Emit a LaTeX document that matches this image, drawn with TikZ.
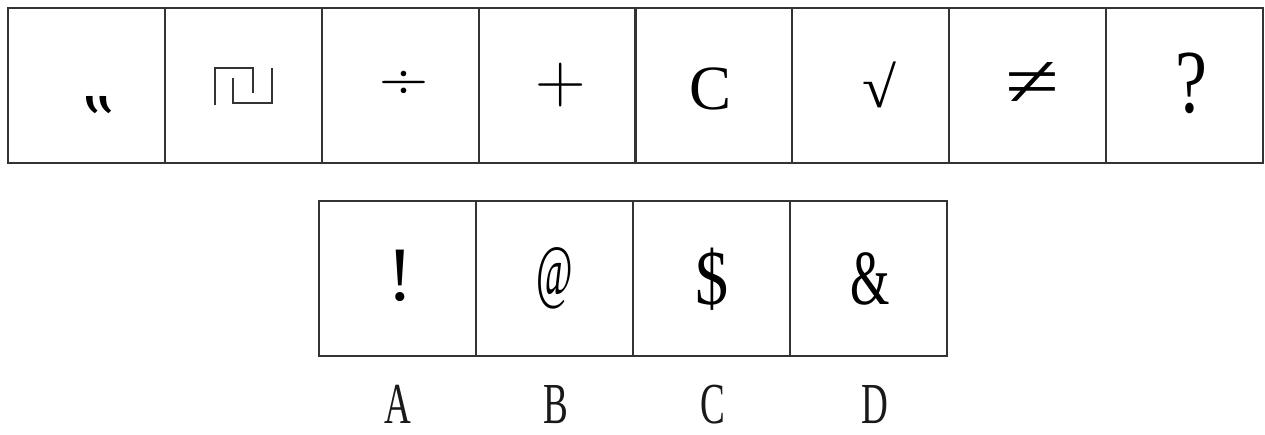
\documentclass[tikz,border=0pt]{standalone}
\usepackage{fontspec}
\setmainfont{Liberation Serif}
\newfontfamily\dvserif{DejaVu Serif}
\newcommand{\lmglyph}{\fontfamily{lmr}\selectfont}
\usepackage{graphicx}
\begin{document}
\begin{tikzpicture}[x=1pt,y=-1pt,
  cell/.style={draw=black!80, line width=2pt, minimum width=156.9pt, minimum height=155pt, inner sep=0pt, anchor=center},
  sym/.style={inner sep=0pt, anchor=center, text=black},
  lab/.style={inner sep=0pt, anchor=base, text=black!90, font=\fontsize{58pt}{58pt}\selectfont},
  meander/.style={line width=2.4pt, draw=black!80},
  fs/.style={font=\fontsize{#1}{#1}\selectfont}]
\useasboundingbox (0,0) rectangle (1265,435);
% top row
\foreach \i in {1,...,8}
  \node[cell] (t\i) at ({8+156.875*(\i-0.5)},85.5) {};
% answer row
\node[cell] (bA) at (397.5,278.5) {};
\node[cell] (bB) at (554.5,278.5) {};
\node[cell] (bC) at (711.5,278.5) {};
\node[cell] (bD) at (868.5,278.5) {};
% symbols, top row
\node[sym, fs=70pt, anchor=base] (s1) at (99,148) {\dvserif ‟};
\draw[meander] (215,105) -- (215,68) -- (253,68) -- (253,93);
\draw[meander] (233,78) -- (233,103) -- (272,103) -- (272,68);
\node[sym, fs=68pt] (s3) at (404,85) {\lmglyph ÷};
\node[sym, fs=70pt] (s4) at (561,85) {\lmglyph +};
\node[sym, fs=63pt] (s5) at (710,89) {C};
\node[sym] (s6) at (879,85) {\resizebox*{34pt}{46pt}{√}};
\node[sym] (s7) at (1032,85) {\resizebox*{54pt}{44pt}{≠}};
\node[sym, fs=90pt] (s8) at (1191,83) {\scalebox{0.8}[1]{?}};
% symbols, answer row
\node[sym, fs=77pt] (oA) at (400,276) {!};
\node[sym, fs=72pt] (oB) at (555,278) {\scalebox{0.55}[1]{@}};
\node[sym, fs=78pt] (oC) at (712,279) {\scalebox{0.85}[1]{\$}};
\node[sym, fs=78pt] (oD) at (870,279) {\scalebox{0.65}[1]{\&}};
% labels
\node[lab] (lA) at (398,423) {\scalebox{0.64}[1]{A}};
\node[lab] (lB) at (556,423) {\scalebox{0.64}[1]{B}};
\node[lab] (lC) at (713,423) {\scalebox{0.64}[1]{C}};
\node[lab] (lD) at (875,423) {\scalebox{0.64}[1]{D}};
\end{tikzpicture}
\end{document}
